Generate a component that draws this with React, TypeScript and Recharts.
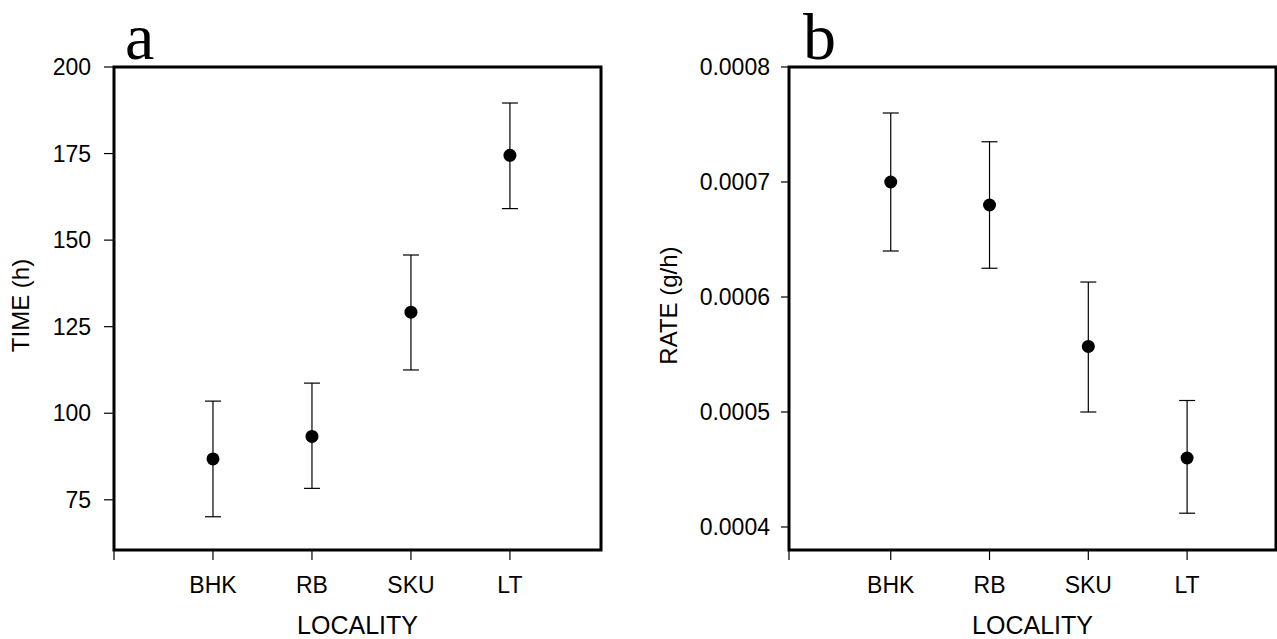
import React from "react";
import { ScatterChart, Scatter, XAxis, YAxis, ErrorBar, ReferenceArea } from "recharts";

// localities on the x axis (same order in both panels)
const localities = ["BHK", "RB", "SKU", "LT"];

// panel a: development time (h), mean with lower / upper bar ends
const timeMean = [86.8, 93.3, 129.2, 174.5];
const timeLow = [70.1, 78.3, 112.5, 159.1];
const timeHigh = [103.5, 108.7, 145.7, 189.6];
const timeTicks = [75, 100, 125, 150, 175, 200];

// panel b: rate (g/h)
const rateMean = [0.0007, 0.00068, 0.000557, 0.00046];
const rateLow = [0.00064, 0.000625, 0.0005, 0.000412];
const rateHigh = [0.00076, 0.000735, 0.000613, 0.00051];
const rateTicks = [0.0004, 0.0005, 0.0006, 0.0007, 0.0008];

const SANS = '"Liberation Sans", Arial, Helvetica, sans-serif';
const SERIF = '"Liberation Serif", "Times New Roman", serif';

function buildPoints(mean: number[], low: number[], high: number[]) {
  return mean.map((m, i) => ({
    x: i + 1,
    y: m,
    err: [m - low[i], high[i] - m],
  }));
}

const timeData = buildPoints(timeMean, timeLow, timeHigh);
const rateData = buildPoints(rateMean, rateLow, rateHigh);

const Dot = (props: any) => (
  <circle cx={props.cx} cy={props.cy} r={6.5} fill="#000" />
);

const tickStyle = { fill: "#000", fontSize: 23, fontFamily: SANS };

function yTitle(text: string, cx: number) {
  return (props: any) => {
    const vb = props.viewBox;
    const cy = vb.y + vb.height / 2 - 3;
    return (
      <text
        x={cx}
        y={cy}
        transform={`rotate(-90, ${cx}, ${cy})`}
        textAnchor="middle"
        dominantBaseline="central"
        fontFamily={SANS}
        fontSize={24}
        fill="#000"
      >
        {text}
      </text>
    );
  };
}

function xTitle(text: string) {
  return (props: any) => {
    const vb = props.viewBox;
    return (
      <text
        x={vb.x + vb.width / 2}
        y={vb.y + 84}
        textAnchor="middle"
        fontFamily={SANS}
        fontSize={25}
        fill="#000"
      >
        {text}
      </text>
    );
  };
}

interface PanelProps {
  width: number;
  yAxisWidth: number;
  marginRight: number;
  data: { x: number; y: number; err: number[] }[];
  xDomain: [number, number];
  xTicks: number[];
  yDomain: [number, number];
  yTicks: number[];
  yFormat: (v: number) => string;
  yTickSize: number;
  yTickMargin: number;
  yLabel: string;
  yLabelX: number;
}

function Panel(p: PanelProps) {
  return (
    <ScatterChart
      width={p.width}
      height={639}
      margin={{ top: 67, right: p.marginRight, bottom: 0, left: 0 }}
    >
      <XAxis
        type="number"
        dataKey="x"
        domain={p.xDomain}
        ticks={p.xTicks}
        allowDataOverflow
        tickFormatter={(v: number) => localities[Math.round(v) - 1] ?? ""}
        tick={tickStyle}
        tickSize={10}
        tickMargin={17}
        tickLine={{ stroke: "#000", strokeWidth: 1.2 }}
        axisLine={false}
        height={89}
        label={{ content: xTitle("LOCALITY") }}
      />
      <YAxis
        type="number"
        dataKey="y"
        domain={p.yDomain}
        ticks={p.yTicks}
        allowDataOverflow
        tickFormatter={p.yFormat}
        tick={tickStyle}
        tickSize={p.yTickSize}
        tickMargin={p.yTickMargin}
        tickLine={{ stroke: "#000", strokeWidth: 1.2 }}
        axisLine={false}
        width={p.yAxisWidth}
        label={{ content: yTitle(p.yLabel, p.yLabelX) }}
      />
      <ReferenceArea
        x1={p.xDomain[0]}
        x2={p.xDomain[1]}
        y1={p.yDomain[0]}
        y2={p.yDomain[1]}
        fill="none"
        stroke="#000"
        strokeWidth={3}
        ifOverflow="visible"
      />
      <Scatter data={p.data} shape={Dot} isAnimationActive={false}>
        <ErrorBar
          dataKey="err"
          direction="y"
          width={8}
          stroke="#000"
          strokeWidth={1.2}
          isAnimationActive={false}
        />
      </Scatter>
    </ScatterChart>
  );
}

export default function App() {
  return (
    <div
      style={{
        position: "absolute",
        left: 0,
        top: 0,
        width: 1277,
        height: 639,
        background: "#fff",
        overflow: "hidden",
      }}
    >
      <div style={{ position: "absolute", left: 0, top: 0 }}>
        <Panel
          width={640}
          yAxisWidth={114}
          marginRight={39}
          data={timeData}
          xDomain={[0, 4.92]}
          xTicks={[0, 1, 2, 3, 4]}
          yDomain={[60.5, 200]}
          yTicks={timeTicks}
          yFormat={(v) => String(v)}
          yTickSize={10}
          yTickMargin={13}
          yLabel="TIME (h)"
          yLabelX={20}
        />
      </div>
      <div style={{ position: "absolute", left: 640, top: 0 }}>
        <Panel
          width={637}
          yAxisWidth={149}
          marginRight={1}
          data={rateData}
          xDomain={[-0.03, 4.9]}
          xTicks={[-0.03, 1, 2, 3, 4]}
          yDomain={[0.00038, 0.0008]}
          yTicks={rateTicks}
          yFormat={(v) => v.toFixed(4)}
          yTickSize={8}
          yTickMargin={11}
          yLabel="RATE (g/h)"
          yLabelX={28}
        />
      </div>
      <svg
        width={1277}
        height={80}
        style={{ position: "absolute", left: 0, top: 0, pointerEvents: "none" }}
      >
        <text x={125} y={59} fontFamily={SERIF} fontSize={66} fill="#000">
          a
        </text>
        <text x={803} y={59} fontFamily={SERIF} fontSize={66} fill="#000">
          b
        </text>
      </svg>
    </div>
  );
}
